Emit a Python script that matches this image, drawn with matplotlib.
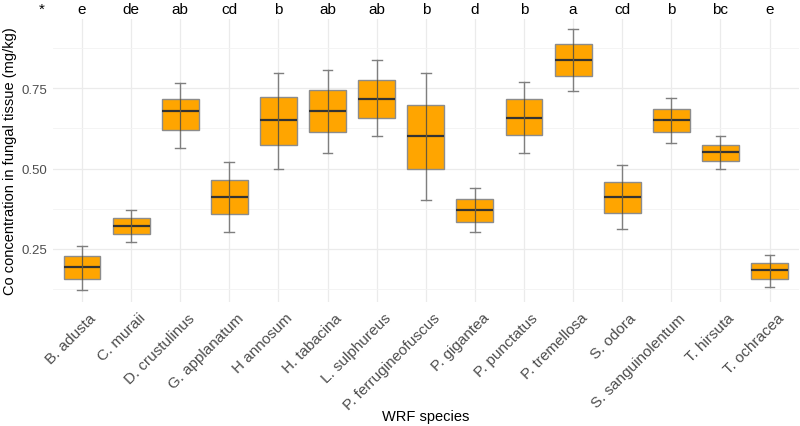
import matplotlib
matplotlib.use("Agg")
import matplotlib.pyplot as plt
import matplotlib.transforms as mtransforms
from matplotlib.ticker import MultipleLocator

plt.rcParams['font.family'] = ['Liberation Sans', 'DejaVu Sans']

species = ["B. adusta", "C. muraii", "D. crustulinus", "G. applanatum", "H annosum",
           "H. tabacina", "L. sulphureus", "P. ferrugineofuscus", "P. gigantea",
           "P. punctatus", "P. tremellosa", "S. odora", "S. sanguinolentum",
           "T. hirsuta", "T. ochracea"]
whisker_low = [0.122, 0.272, 0.565, 0.301, 0.499, 0.549, 0.600, 0.401, 0.301, 0.549, 0.740, 0.312, 0.580, 0.499, 0.132]
q1 = [0.157, 0.297, 0.619, 0.357, 0.574, 0.613, 0.658, 0.499, 0.335, 0.604, 0.787, 0.360, 0.613, 0.524, 0.157]
median = [0.192, 0.321, 0.678, 0.410, 0.650, 0.678, 0.718, 0.600, 0.371, 0.658, 0.837, 0.410, 0.650, 0.550, 0.183]
q3 = [0.227, 0.345, 0.718, 0.465, 0.723, 0.743, 0.777, 0.698, 0.405, 0.715, 0.888, 0.459, 0.684, 0.574, 0.207]
whisker_high = [0.260, 0.370, 0.765, 0.519, 0.799, 0.807, 0.837, 0.799, 0.440, 0.768, 0.936, 0.510, 0.719, 0.600, 0.230]
letters = ["e", "de", "ab", "cd", "b", "ab", "ab", "b", "d", "b", "a", "cd", "b", "bc", "e"]

W, H = 800, 427
fig = plt.figure(figsize=(8, 4.27), dpi=100)
ax = fig.add_axes([52.6 / W, 1 - 303 / H, (799 - 52.6) / W, (303 - 20) / H])

n = len(species)
pos = list(range(1, n + 1))
stats = []
for i in range(n):
    stats.append(dict(med=median[i], q1=q1[i], q3=q3[i], whislo=whisker_low[i],
                      whishi=whisker_high[i], fliers=[], label=species[i]))

# error bars (whiskers with caps)
for i in range(n):
    ax.plot([pos[i], pos[i]], [whisker_low[i], whisker_high[i]], color="#7f7f7f", lw=1.0, zorder=2)
    for yv in (whisker_low[i], whisker_high[i]):
        ax.plot([pos[i] - 0.1, pos[i] + 0.1], [yv, yv], color="#7f7f7f", lw=1.0, zorder=2)

ax.bxp(stats, positions=pos, widths=0.75, patch_artist=True, showfliers=False,
       showcaps=False,
       boxprops=dict(facecolor="#FFA500", edgecolor="#8c8c8c", linewidth=1.0),
       whiskerprops=dict(linewidth=0),
       medianprops=dict(color="#333333", linewidth=1.6), zorder=3)
# whisker line visible through the box
for i in range(n):
    ax.plot([pos[i], pos[i]], [q1[i], q3[i]], color="#6a5a3a", lw=0.9, zorder=4)

ax.set_xlim(0.4, n + 0.6)
ax.set_ylim(0.0844, 0.9656)
ax.yaxis.set_minor_locator(MultipleLocator(0.125))
ax.set_yticks([0.25, 0.5, 0.75])
ax.set_yticklabels(["0.25", "0.50", "0.75"])
ax.set_xticks(pos)
ax.set_xticklabels(species, rotation=45, ha="right", va="top", rotation_mode="anchor")
ax.tick_params(axis="both", which="both", length=0, colors="#4d4d4d")
ax.tick_params(axis="y", labelsize=9.5, pad=4)
ax.tick_params(axis="x", labelsize=11, pad=6)
offset = mtransforms.ScaledTranslation(7 / 100, 0, fig.dpi_scale_trans)
for lab in ax.get_xticklabels():
    lab.set_transform(lab.get_transform() + offset)
ax.grid(True, which="major", color="#ebebeb", lw=0.9, zorder=0)
ax.grid(True, which="minor", axis="y", color="#f3f3f3", lw=0.6, zorder=0)
ax.set_axisbelow(True)
for s in ax.spines.values():
    s.set_visible(False)

fig.text(10 / W, 1 - 161 / H, "Co concentration in fungal tissue (mg/kg)", rotation=90,
         ha="center", va="center", fontsize=10.5, color="black")
fig.text(426 / W, 1 - 417 / H, "WRF species", ha="center", va="center",
         fontsize=10.5, color="black")

for i in range(n):
    ax.text(pos[i], 1 - 13.5 / H, letters[i],
            transform=mtransforms.blended_transform_factory(ax.transData, fig.transFigure),
            ha="center", va="baseline", fontsize=11, color="black")

fig.text(42 / W, 1 - 13.5 / H, "*", ha="center", va="baseline", fontsize=11, color="black")

fig.savefig("out.png", dpi=100)
